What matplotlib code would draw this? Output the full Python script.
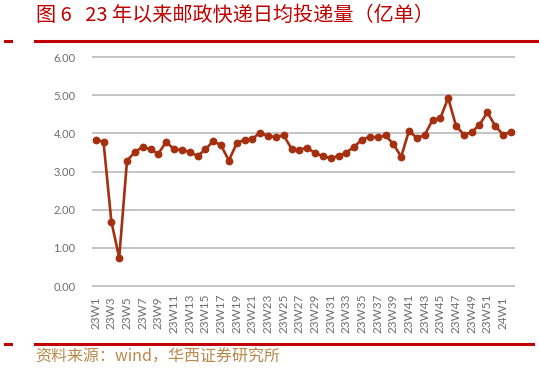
import matplotlib
matplotlib.use('Agg')
import matplotlib.pyplot as plt
from matplotlib.lines import Line2D

# 周度数据 23W1 ~ 24W2
weeks = ['23W%d' % i for i in range(1, 53)] + ['24W1', '24W2']
values = [3.84, 3.78, 1.69, 0.74, 3.29, 3.51, 3.65, 3.58, 3.47, 3.78,
          3.58, 3.57, 3.51, 3.41, 3.58, 3.80, 3.69, 3.29, 3.74, 3.84,
          3.86, 4.02, 3.93, 3.91, 3.95, 3.60, 3.57, 3.63, 3.48, 3.41,
          3.35, 3.41, 3.50, 3.65, 3.84, 3.91, 3.90, 3.95, 3.72, 3.39,
          4.07, 3.88, 3.96, 4.35, 4.40, 4.93, 4.20, 3.97, 4.03, 4.23,
          4.55, 4.20, 3.97, 4.04]
yticks = [0, 1, 2, 3, 4, 5, 6]

plt.rcParams['font.family'] = ['Noto Sans CJK SC', 'DejaVu Sans']

fig = plt.figure(figsize=(5.39, 3.71), dpi=100)
ax = fig.add_axes([0.171, 0.227, 0.784, 0.621])

x = list(range(len(weeks)))
ax.plot(x, values, color='#A5300F', linewidth=1.9, marker='o',
        markersize=4.6, zorder=3)

ax.set_ylim(-0.02, 6.02)
ax.set_xlim(-0.45, len(weeks) - 0.5)
ax.set_yticks(yticks)
ax.set_yticklabels(['%.2f' % v for v in yticks], fontsize=8, color='#6d6d6d',
                   family=['Lato', 'DejaVu Sans'])
ax.set_xticks(x[::2])
ax.set_xticklabels(weeks[::2], rotation=90, fontsize=8.5, color='#6d6d6d',
                   va='center', family=['Lato', 'DejaVu Sans'])
ax.tick_params(axis='y', length=0, pad=12)
ax.tick_params(axis='x', length=0, pad=19)
ax.yaxis.grid(True, color='#bfbfbf', linewidth=1.3)
ax.set_axisbelow(True)
for s in ax.spines.values():
    s.set_visible(False)

# 标题和红线
fig.text(0.066, 0.958, '图 6   23 年以来邮政快递日均投递量（亿单）', fontsize=14.5,
         color='#C00000', va='center', ha='left', fontweight='light')
for yy in [1 - 41 / 371, 1 - 344 / 371]:
    fig.add_artist(Line2D([5 / 539, 11 / 539], [yy, yy], color='#C00000',
                          linewidth=2.2, transform=fig.transFigure))
fig.add_artist(Line2D([35 / 539, 1.0], [1 - 41 / 371] * 2, color='#C00000',
                      linewidth=2.2, transform=fig.transFigure))
fig.add_artist(Line2D([35 / 539, 533 / 539], [1 - 344 / 371] * 2, color='#C00000',
                      linewidth=2.2, transform=fig.transFigure))

fig.text(0.066, 1 - 357 / 371, '资料来源：wind，华西证券研究所', fontsize=11.5,
         color='#B8894A', va='center', ha='left', fontweight='light')

fig.savefig('out.png', dpi=100)
